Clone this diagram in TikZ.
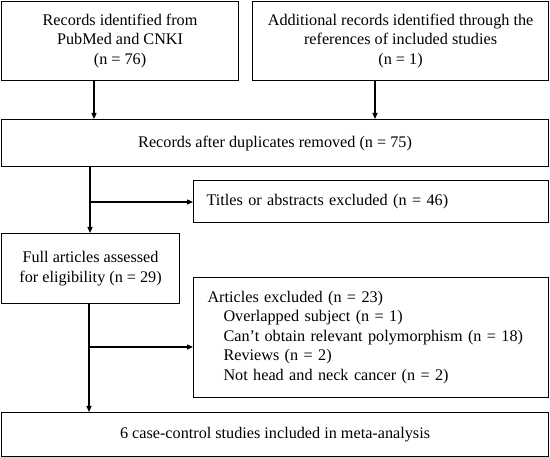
\documentclass[tikz,border=0pt]{standalone}
\usepackage{fontspec}
\setmainfont{Liberation Serif}
\usetikzlibrary{arrows.meta}
\begin{document}
\begin{tikzpicture}[x=1pt,y=-1pt,
  box/.style={draw, line width=1.1pt, anchor=north west, inner sep=0pt, align=center,
    font=\fontsize{16.2}{19.5}\selectfont},
  lbox/.style={box, align=left, inner xsep=13pt},
  arr/.style={line width=1.1pt, -{Triangle[length=6pt,width=5pt]}}]
\useasboundingbox (0,0) rectangle (550,457);
\node[box, minimum width=237pt, minimum height=79pt] (a) at (1,0.6)
  {Records identified from\\PubMed and CNKI\\(n = 76)};
\node[box, minimum width=296pt, minimum height=79pt] (b) at (252,0.6)
  {Additional records identified through the\\references of included studies\\(n = 1)};
\node[box, minimum width=547pt, minimum height=47pt] (c) at (1,119)
  {Records after duplicates removed (n = 75)};
\node[lbox, text width=329pt, minimum height=42pt] (t) at (193,180)
  {Titles or abstracts excluded (n = 46)};
\node[box, minimum width=178pt, minimum height=70pt] (f) at (1,233)
  {Full articles assessed\\for eligibility (n = 29)};
\node[lbox, inner xsep=14pt, text width=327pt, minimum height=120pt] (e) at (193,277)
  {Articles excluded (n = 23)\\
   \hspace*{16pt}Overlapped subject (n = 1)\\
   \hspace*{16pt}Can’t obtain relevant polymorphism (n = 18)\\
   \hspace*{16pt}Reviews (n = 2)\\
   \hspace*{16pt}Not head and neck cancer (n = 2)};
\node[box, minimum width=547pt, minimum height=44pt] (g) at (1,412)
  {6 case-control studies included in meta-analysis};
\coordinate (x1) at (94,0);
\coordinate (x2) at (375,0);
\coordinate (x3) at (90,0);
\coordinate (x4) at (89,347);
\coordinate (y1) at (0,202);
\draw[arr] (a.south -| x1) -- (c.north -| x1);
\draw[arr] (b.south -| x2) -- (c.north -| x2);
\draw[arr] (c.south -| x3) -- (f.north -| x3);
\draw[arr] (x3 |- y1) -- (t.west |- y1);
\draw[arr] (f.south -| x4) -- (g.north -| x4);
\draw[arr] (x4) -- (e.west |- x4);
\end{tikzpicture}
\end{document}
